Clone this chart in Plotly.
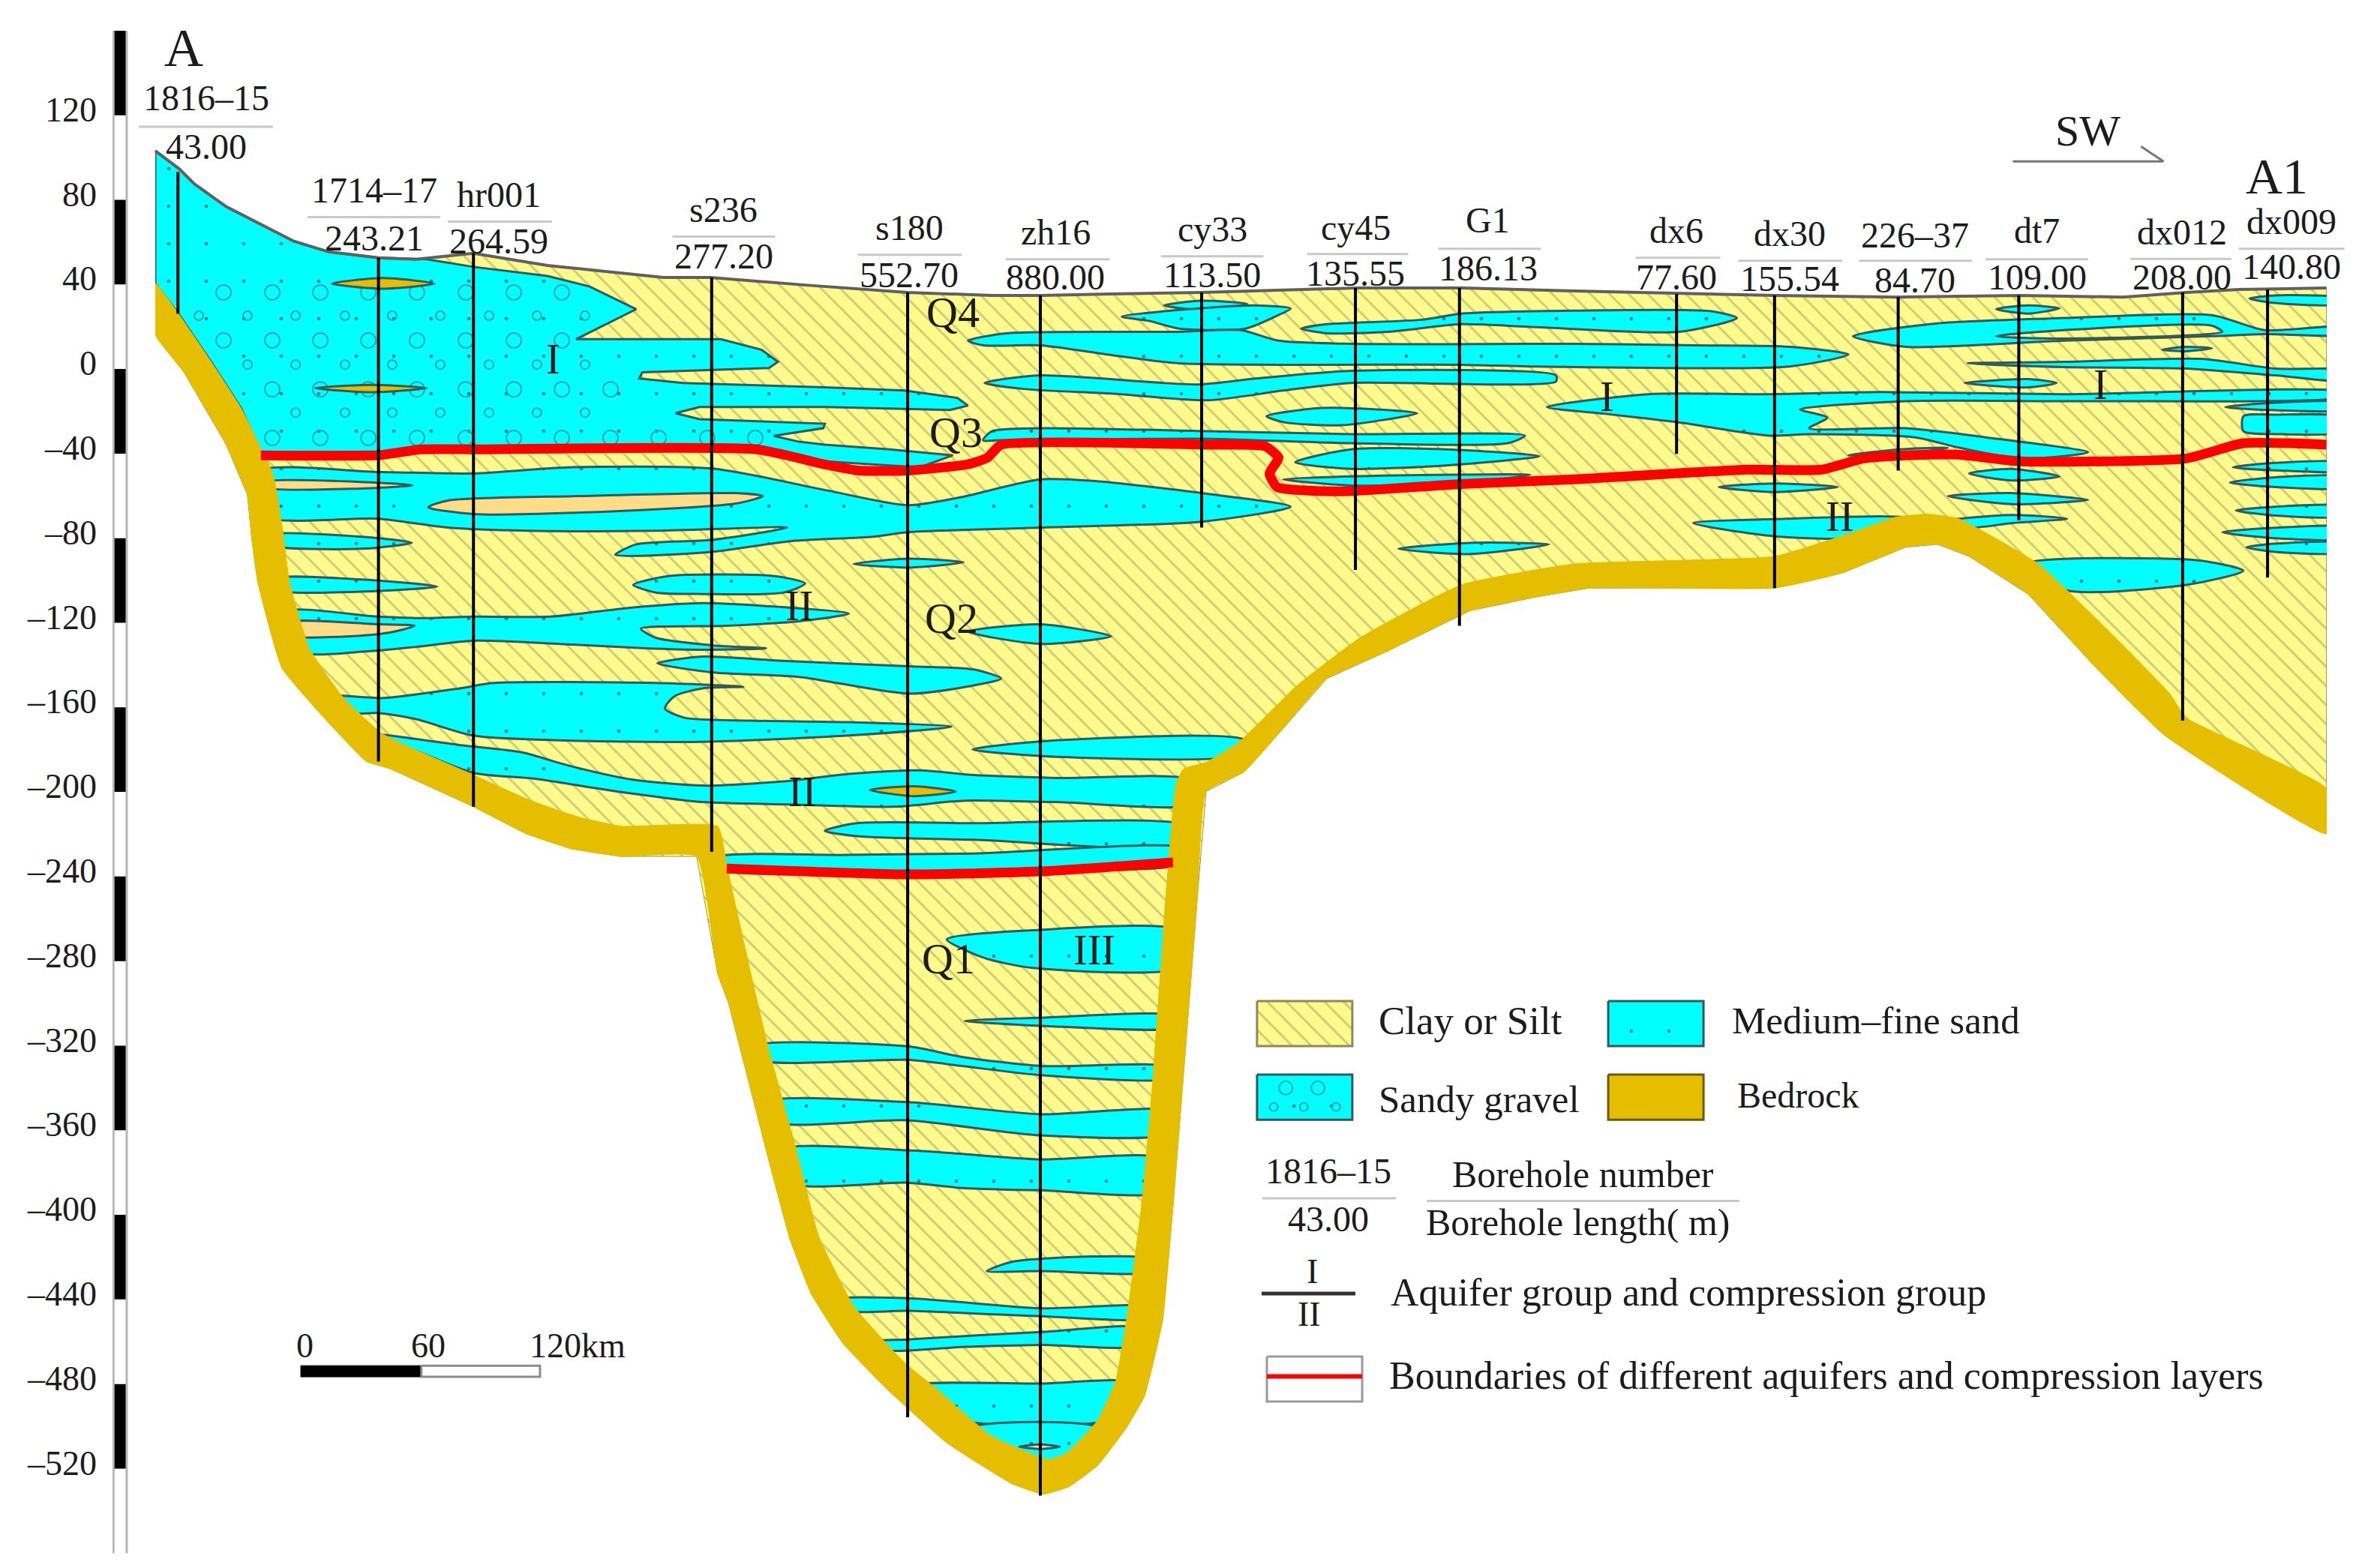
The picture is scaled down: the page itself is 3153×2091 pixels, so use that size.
import plotly.graph_objects as go

# section: distance along profile in km, elevation in m
tick_vals = [120, 80, 40, 0, -40, -80, -120, -160, -200, -240, -280, -320, -360, -400, -440, -480, -520]
tick_text = ["120", "80", "40", "0", "–40", "–80", "–120", "–160", "–200", "–240", "–280", "–320", "–360", "–400", "–440", "–480", "–520"]
scale_base = [120, 40, -40, -120, -200, -280, -360, -440, -520]

surface_x = [-72.4, -60.4, -52.9, -37.1, -3.4, 13.9, 38.7, 57.4, 85.9, 122.7, 180.4, 203.7, 250.9, 301.9, 343.9, 367.9, 403.2, 448.2, 524.7, 577.2, 633.4, 684.4, 733.2, 794.7, 855.4, 906.4, 937.9, 964.2, 1007.7]
surface_y = [103.2, 94.6, 87.5, 76.8, 60.4, 55.4, 52.6, 51.9, 54.7, 49, 43.3, 43.3, 39.7, 36.2, 34.8, 34.8, 35.5, 36.2, 38.3, 38.3, 36.9, 35.8, 34.8, 34, 34.8, 34, 36.2, 37.6, 38.3]

bedrock_top_x = [-72.4, -60.4, -44.6, -29.6, -19.9, -13.9, -9.4, -5.6, 4.2, 20.7, 40.9, 85.9, 114.4, 138.4, 159.4, 207.4, 211.9, 223.9, 232.2, 246.4, 257.7, 274.9, 300.4, 316.2, 343.2, 371.7, 380.7, 396.4, 405.4, 410.7, 418.2, 423.4, 430.2, 435.4, 439.2, 450.4, 466.9, 495.4, 526.9, 577.2, 633.4, 733.2, 770, 793.2, 809, 824.7, 864.4, 898.2, 929.7, 937.9, 1007.7]
bedrock_top_y = [40.5, 25.5, 3.4, -18.7, -37.3, -49.4, -73.6, -100.7, -132.1, -154.9, -172.7, -192, -204.1, -211.9, -216.2, -216.2, -234.8, -286.1, -319.6, -368.8, -410.2, -442.9, -470, -482.2, -504.3, -515.7, -512.8, -497.2, -478.6, -450.1, -395.9, -341.7, -251.2, -196.3, -189.1, -186, -176.3, -149.9, -127.1, -102.1, -92.2, -88.6, -77.9, -70.1, -68.6, -70.8, -92.2, -122.8, -153.5, -164.9, -198.4]
bedrock_low_x = [-72.4, -58.1, -37.1, -26.6, -24.4, -21.4, -9.4, 10.2, 32.7, 44.7, 85.9, 112.2, 134.7, 159.4, 196.9, 207.4, 212.7, 233.7, 243.4, 253.9, 269.7, 291.4, 321.4, 353.7, 369.4, 382.2, 396.4, 410.7, 419.7, 428.7, 433.9, 439.2, 445.9, 450.4, 469.2, 484.2, 510.4, 540.4, 581.7, 614.7, 640.9, 733.2, 767, 798.4, 814.2, 829.9, 859.2, 893.2, 927.4, 1007.7]
bedrock_low_y = [16.2, -1.6, -35.8, -59.4, -80, -100.7, -141.4, -163.5, -185.6, -189.1, -207, -219.8, -226.9, -230.5, -230.5, -286.1, -299.6, -377.4, -411.6, -437.3, -460.8, -482.2, -507.8, -527.1, -532.1, -528.5, -518.5, -500.7, -485.7, -450.1, -395.9, -332.4, -251.2, -199.8, -190.6, -174.9, -146.4, -133.5, -114.3, -107.8, -103.6, -103.6, -96.4, -84.3, -82.9, -88.6, -106.4, -141.4, -173.4, -219.8]

gravel_x = [-72.4, -60.4, -52.9, -37.1, -3.4, 13.9, 38.7, 62.7, 85.9, 122.7, 143.7, 166.9, 136.9, 208.9, 229.2, 237.4, 232.9, 169.9, 168.4, 190.2, 260.7, 300.4, 326.7, 331.9, 322.9, 260.7, 198.4, 186.4, 198.4, 260.7, 259.9, 235.2, 247.9, 260.7, 292.9, 324.4, 307.9, 260.7, 232.9, -19.9, -29.6, -44.6, -60.4, -72.4]
gravel_y = [103.2, 94.6, 87.5, 76.8, 60.4, 55.4, 52.6, 51.9, 48.3, 44, 39, 28.3, 14.1, 14.1, 9.1, 3.4, 0.5, -1.6, -4.5, -6.6, -8.7, -10.2, -13.7, -17.3, -19.4, -18, -18, -20.9, -23.7, -25.9, -28, -31.6, -34.4, -35.8, -38, -40.8, -46.5, -43.7, -38, -39.4, -18.7, 3.4, 25.5, 40.5]

# gravel circles by row: elevation, distances
gravel_big_y = [36.2, 13.5, -9.6, -32.6]
gravel_big_x = [
    [-38.4, -14.2, 9.7, 33.6, 57.8, 82.1, 106, 129.9],
    [-38.4, -14.2, 9.7, 33.6, 57.8, 82.1, 106, 129.9],
    [-14.2, 9.7, 33.6, 57.8, 82.1, 106, 129.9, 154.1],
    [-14.2, 9.7, 33.6, 57.8, 82.1, 106, 129.9, 154.1, 178, 202.2, 226.1],
]
gravel_small_y = [25.2, 2.1, -20.6]
gravel_small_x = [
    [-50.7, -26.5, -2.6, 22, 45.5, 69.4, 93.7, 117.5, 141.4],
    [-26.5, -2.6, 22, 45.5, 69.4, 93.7, 117.5, 141.4],
    [-2.6, 22, 45.5, 69.4, 93.7, 117.5, 141.4],
]

sand_x = [
    [-22, 38.7, 85.9, 133.2, 206.1, 260.7, 301.9, 327.4, 367.9, 394.2, 448.2, 492.4, 448.2, 367.9, 301.9, 284.7, 242.7, 204.4, 156.4, 166.9, 204.4, 241.9, 177.4, 112.2, 73.2, 38.7, -20],
    [-18, 30.4, 55.2, 30.4, -18],
    [-14, 37.9, 67.9, 37.9, -14],
    [-10, 38.65, 59.65, 85.9, 124.15, 164.65, 199.9, 231.4, 272.65, 247.9, 211.9, 169.15, 176.65, 205.15, 231.4, 199.9, 171.4, 128.65, 85.9, 57.4, 33.4, -3],
    [182.65, 235.9, 250.9, 240.4, 199.9, 176.65, 165.4],
    [274.9, 302.65, 329.65, 302.65],
    [177.4, 199.9, 235.9, 302.65, 334.9, 348.4, 334.9, 302.65, 247.9, 205.15],
    [12, 40.9, 79.15, 95.65, 176.65, 220.15, 199.9, 185.65, 181.15, 190.9, 223.9, 271.15, 323.65, 271.15, 199.9, 128.65, 85.9, 57.4, 38.65, 20],
    [35, 81.4, 109.9, 133.9, 164.65, 199.9, 242.65, 271.15, 307.15, 334.9, 375.4, 445, 445, 375.4, 330.4, 295.15, 242.65, 199.9, 152.65, 116.65, 85.9, 57.4],
    [260.65, 276.4, 334.9, 442, 442, 334.9, 276.4],
    [205, 271.15, 334.9, 442, 442, 334.9, 205],
    [334.15, 375.4, 470, 470, 375.4],
    [331.9, 367.9, 403.15, 367.9],
    [429.4, 448.15, 470.9, 448.15],
    [408.4, 427.15, 474.4, 492.4, 486.4, 469.9, 436.9, 422.65],
    [331.9, 351, 436.9, 467.65, 486.4, 524.65, 633.4, 693.4, 740.65, 769.9, 740.65, 614.65, 577.15, 436.9, 403.15, 367.9, 339.4],
    [497.65, 510.4, 557.65, 577.15, 633.4, 701.65, 714.4, 685.9, 614.65, 577.15, 541.15, 510.4],
    [340.15, 367.9, 445.9, 474.85, 522.4, 624.4, 624.4, 522.4, 488.65, 451.15, 403.15, 360.4],
    [480.4, 508.15, 555.4, 517.5, 488.65],
    [339.4, 343.9, 367.9, 451.15, 522.4, 609, 600.4, 522.4, 451.15, 348.4],
    [494.65, 522.4, 569.65, 616.15, 569.65, 522.4],
    [488.65, 522.4, 611.65, 569.65, 522.4],
    [546, 581.65, 620.95, 581.65],
    [619.9, 670.15, 727.9, 785.65, 877.15, 1018, 1018, 892.9, 798.4, 745.9, 759.4, 750.4, 798.4, 838.15, 889.15, 855.4, 825.4, 802.9, 750.4, 730.15, 684.4, 649.15],
    [772.15, 814.15, 877.15, 950.65, 976.9, 1018, 1018, 976.9, 950.65, 877.15, 798.4],
    [843.4, 859.15, 874.9, 859.15],
    [925.9, 937.9, 950.65, 937.9],
    [829.15, 877.15, 945.4, 982.15, 1018, 1018, 982.15, 937.9, 877.15],
    [827.65, 859.15, 873.4, 859.15],
    [969.4, 982.15, 1018, 1018, 982.15],
    [957.4, 982.15, 1018, 1018, 982.15],
    [966.4, 982.15, 1018, 1018, 982.9, 966.4],
    [961.15, 982.15, 1018, 1018, 982.15],
    [959.65, 982.15, 1018, 1018, 982.15],
    [962.65, 982.15, 1018, 1018, 982.15],
    [955.9, 982.15, 1018, 1018, 982.15],
    [967.9, 982.15, 1018, 1018, 982.15],
    [829.9, 850.9, 874.9, 850.9],
    [819.4, 850.9, 889.15, 850.9],
    [816, 850.9, 878.65, 850.9, 830],
    [858, 943.15, 966.4, 937.9, 878],
    [705.4, 733.15, 764.65, 733.15],
    [692.65, 733.15, 802, 790, 733.15],
    [769.9, 795.4, 819.4, 798.4],
    [321.4, 364.15, 440, 440, 364.15, 339.4],
    [330.4, 367.9, 438, 438, 367.9],
    [225, 301.9, 328.9, 367.9, 436, 436, 367.9, 328.9, 301.9, 228],
    [232, 301.9, 367.9, 433, 433, 367.9, 301.9, 236],
    [238, 301.9, 325.15, 367.9, 431, 430, 367.9, 328.9, 301.9, 243],
    [341.3, 355.5, 426, 426, 367.9],
    [266, 301.9, 367.9, 425, 424, 367.9, 301.9, 272],
    [282, 301.9, 367.9, 422, 420, 367.9, 328.9, 290],
    [300, 367.9, 416, 406, 320],
    [330, 400, 385, 352],
]
sand_y = [
    [-48.7, -48.7, -49.4, -46.5, -47.2, -57.2, -64.4, -60.8, -52.2, -52.9, -58.7, -65.1, -72.2, -75, -77.2, -79.3, -81.5, -86.5, -87.9, -82.9, -80.8, -75, -76.5, -76.5, -75, -70.8, -69.3],
    [-78.6, -79.3, -82.2, -85, -82.9],
    [-99.3, -100, -102.9, -105, -104.3],
    [-115, -117.1, -117.8, -117.1, -117.1, -112.8, -110.7, -112.1, -115.7, -119.3, -121.4, -122.8, -127.1, -130.7, -132.1, -132.8, -132.1, -130, -128.5, -131.4, -133.5, -133.5],
    [-97.9, -97.9, -101.4, -105.7, -106.4, -105.7, -102.1],
    [-92.2, -89.7, -91.4, -93.9],
    [-139.2, -136, -137.8, -140.6, -142.1, -146.4, -149.6, -153.5, -145.6, -143.5],
    [-154.9, -155.6, -151, -148.5, -148.5, -150.3, -151, -154.9, -160.6, -164.9, -166.3, -167, -169.2, -173.4, -176.3, -175.6, -173.4, -165.6, -162.7, -162.7],
    [-172.7, -178.1, -181.3, -187.7, -194.1, -197, -194.8, -191.6, -189.8, -192, -193.4, -194.8, -205.5, -204.8, -204.1, -207, -205.9, -204.8, -199.1, -193.8, -191, -180.6],
    [-218.4, -214.8, -214.8, -216.2, -224.8, -222.6, -220.9],
    [-231.2, -229.8, -229.1, -226.9, -233.3, -237.6, -236.2],
    [-179.9, -175.6, -175.6, -182, -183.4],
    [-124.2, -120.7, -126.4, -130],
    [30.1, 32.3, 30.8, 27.9],
    [24.8, 27.1, 30.1, 28.6, 25.5, 19.1, 19.1, 22.6],
    [13.4, 16.9, 17.6, 18.4, 13.4, 11.9, 11.9, 11.2, 10.5, 6.9, 1.2, 1.2, 2, 2.7, 6.6, 11.2, 11.2],
    [19.1, 21.2, 23.3, 26.2, 27.6, 27.3, 24.1, 17.6, 19.8, 21.2, 17.6, 16.9],
    [-6.6, -3, -7.3, -4.5, -0.9, -3, -5.9, -6.6, -10.2, -14.8, -11.6, -9.5],
    [-22.3, -18.4, -20.9, -26.6, -25.1],
    [-33.7, -29.4, -28, -29.4, -30.8, -31.5, -35.1, -35.1, -33, -33.7],
    [-44.1, -38, -38, -41.2, -45.6, -47.2],
    [-52.2, -50.8, -50.1, -54.4, -55.1],
    [-85, -82.2, -82.9, -87.5],
    [-18, -11.9, -11.9, -10.9, -11.9, -10.9, -13, -15.2, -15.2, -19.1, -23, -28, -28, -32.3, -39.4, -42.3, -37.3, -32.3, -30.8, -31.5, -25.1, -21.2],
    [15.5, 21.6, 24.1, 25.5, 18.4, 19.8, 16.5, 16.5, 15.5, 13.4, 10.5],
    [28.3, 30.1, 28.7, 26.2],
    [9.1, 10.5, 9.8, 8.4],
    [2.7, 3.4, 4.8, 0.2, -0.9, -5.2, -3, 0.2, 0.9],
    [-6.6, -4.8, -6.6, -8.7],
    [33.3, 34.8, 33.3, 30.8, 31.2],
    [-18, -15.9, -15.9, -19.1, -19.5],
    [-22.3, -21.6, -23, -29.4, -30.8, -29.4],
    [-46.5, -44.4, -44.4, -47.9, -47.9],
    [-53.7, -51.2, -51.2, -55.8, -55.8],
    [-66.9, -65.1, -65.1, -69.3, -69.3],
    [-77.2, -75.1, -75.1, -80, -80],
    [-84.3, -82.6, -82.6, -86.5, -86.5],
    [-49.4, -47.2, -50.8, -52.7],
    [-60.1, -58.7, -61.9, -63.9],
    [-72.2, -69, -70.8, -72.9, -75.1],
    [-92.2, -90.4, -95.4, -102.1, -104.6],
    [-55.8, -54.1, -55.8, -58.2],
    [-72.9, -71, -71, -79.1, -79.1],
    [-40.8, -38, -37.3, -40.1],
    [-269.7, -265.4, -266.1, -282.5, -283.2, -278.3],
    [-308.2, -306.8, -306.1, -311.1, -310.6],
    [-320.3, -320.3, -325.3, -329.6, -330.3, -335.3, -333.9, -329.6, -326.7, -326.7],
    [-346.7, -346.7, -352.4, -351.3, -361.3, -362.4, -355.3, -356],
    [-369.5, -369.5, -370.9, -373.8, -373.8, -388.8, -388.4, -387.3, -384.8, -384.8],
    [-426.6, -421.9, -421.3, -426.6, -426.6],
    [-440.1, -439.4, -444.2, -443.7, -448.7, -447.9, -445.4, -445.4],
    [-460.1, -458.9, -455.4, -453.7, -461.5, -461.5, -462.5, -464.1],
    [-481.5, -479.8, -479.8, -496.1, -496.1],
    [-501.4, -501.4, -522, -522],
]

# clay tongue inside the sand near dx012
tongue_x = [843.4, 877.15, 950.65, 955.9, 877.15]
tongue_y = [15.5, 18.4, 20.5, 17.6, 14.4]

tan_x = [[63.4, 73.2, 138.4, 216.4, 229.9, 216.4, 138.4, 85.9], [-18, 30, 55.5, 30, -18], [-8, 37.9, 56.65, 41.65, -8], [357.4, 367.9, 377.65, 367.9]]
tan_y = [[-65.4, -62.2, -60.1, -58.7, -60.1, -63.6, -67.9, -68.6], [-53.4, -53.4, -55, -56.5, -56], [-120, -120.7, -121.4, -125, -125.7], [-509.6, -508.6, -509.6, -510.7]]
gold_x = [[15.4, 41, 66.4, 41], [7.2, 35, 62.6, 35], [283.15, 304.9, 325.9, 304.9]]
gold_y = [[40.4, 43, 40.4, 38], [-9, -7.5, -9, -11], [-199.1, -197.3, -199.8, -202]]

red_x = [-19.85, 38.65, 59.65, 85.9, 226.9, 260.65, 277.15, 301.9, 331.9, 341.65, 348.4, 451.15, 479.65, 486.4, 481.9, 485.65, 516.35, 577.15, 633.4, 719.65, 756.4, 777.4, 798.4, 824.65, 855.4, 937.9, 966.4, 1007.65]
red_y = [-40.8, -40.8, -38, -38, -38, -45.1, -48, -48, -45.1, -41.9, -35.8, -35.8, -36.5, -41.9, -49.4, -55.8, -57.9, -54.4, -52.2, -47.6, -47.6, -42.3, -40.8, -40.5, -43.7, -42.3, -35.1, -35.8]
red_low_x = [211.9, 302.65, 367.9, 433.9]
red_low_y = [-236.2, -239, -237.6, -233.3]

hole_names = ["1816–15", "1714–17", "hr001", "s236", "s180", "zh16", "cy33", "cy45", "G1", "dx6", "dx30", "226–37", "dt7", "dx012", "dx009"]
hole_lengths = ["43.00", "243.21", "264.59", "277.20", "552.70", "880.00", "113.50", "135.55", "186.13", "77.60", "155.54", "84.70", "109.00", "208.00", "140.80"]
hole_x = [-61.1, 38.65, 85.9, 204.4, 301.9, 367.9, 448.15, 524.65, 576.4, 684.4, 733.15, 794.65, 854.65, 936.15, 978.4]
hole_top = [93.2, 52.6, 54.7, 43.3, 36.2, 34.8, 36.2, 38.3, 38.3, 35.5, 34.8, 34, 34.8, 36.2, 37.6]
hole_bottom = [26.2, -185.6, -207, -228.3, -495.7, -532.8, -75, -95, -121.4, -40.1, -103.6, -48, -71.5, -166.3, -98.6]

# where the borehole captions sit
cap_x = [-46.85, 36.4, 98.65, 210.4, 302.65, 375.4, 453.4, 524.65, 590.65, 684.4, 740.65, 802.9, 863.65, 935.65, 990.4]
cap_name_y = [128.2, 84.7, 82.5, 75.4, 66.8, 64.7, 66.1, 66.8, 70.4, 65.4, 64, 63.3, 65.4, 64.7, 69.7]
cap_len_y = [105.3, 61.8, 60.4, 53.3, 44.7, 43.3, 44.7, 45.4, 47.6, 43.3, 42.6, 41.9, 43.3, 43.3, 48.3]
cap_rule_y = [114.6, 71.8, 69.7, 62.6, 54, 51.9, 53.3, 54.4, 56.9, 52.6, 51.2, 51.2, 51.9, 52.1, 56.9]
cap_rule_x0 = [-80.6, 3.4, 73.15, 184.9, 277.15, 350.65, 427.9, 500.65, 565.9, 664.15, 715.15, 775.15, 838.15, 910.15, 964.15]
cap_rule_x1 = [-13.85, 69.4, 124.9, 235.9, 328.9, 402.4, 478.9, 550.9, 616.9, 706.15, 766.9, 831.4, 889.15, 960.4, 1016.65]

SERIF = "Liberation Serif"
INK = "#1c1c1c"
CLAY = dict(shape="\\", bgcolor="#FEFB8C", fgcolor="#9E9C5E", size=18, solidity=0.16)
SAND = dict(shape=".", bgcolor="#00FFFF", fgcolor="#000000", size=50, solidity=0.007)
EDGE = "#35585A"
GOLD = "#E6BE00"

fig = go.Figure()


def blob(xs, ys, color=None, pattern=None, edge=EDGE, width=3, smooth=0.7):
    fig.add_trace(go.Scatter(
        x=list(xs) + [xs[0]], y=list(ys) + [ys[0]], mode="lines", fill="toself",
        fillcolor=color, fillpattern=pattern,
        line=dict(color=edge, width=width, shape="spline" if smooth else "linear", smoothing=smooth),
        showlegend=False, hoverinfo="skip"))


def line(xs, ys, color=INK, width=3, shape="linear"):
    fig.add_trace(go.Scatter(
        x=xs, y=ys, mode="lines", line=dict(color=color, width=width, shape=shape, smoothing=0.5),
        showlegend=False, hoverinfo="skip"))


def rect(x0, y0, x1, y1, color=None, pattern=None, edge="#8a8a5a", width=3):
    blob([x0, x1, x1, x0], [y0, y0, y1, y1], color, pattern, edge, width, 0)


def label(text, x, y, size=48, anchor="center"):
    fig.add_annotation(x=x, y=y, text=text, showarrow=False, xanchor=anchor, yanchor="middle",
                       font=dict(family=SERIF, size=size, color=INK))


def circles(xs, y, size, color="#2AA7A7"):
    fig.add_trace(go.Scatter(
        x=xs, y=[y] * len(xs), mode="markers", showlegend=False, hoverinfo="skip",
        marker=dict(symbol="circle-open", size=size, color=color, line=dict(width=2, color=color))))


# vertical elevation column
line([-93.2, -93.2], [160, -560], "#b5b5b5", 3)
line([-86.6, -86.6], [160, -560], "#b5b5b5", 3)
fig.add_trace(go.Bar(x=[-89.9] * len(scale_base), y=[40] * len(scale_base), base=scale_base, width=6.7,
                     marker=dict(color="black", line=dict(width=0)), showlegend=False, hoverinfo="skip"))

# clay first, aquifers over it, bedrock band last so it trims the lens ends
blob(surface_x + bedrock_low_x[::-1], surface_y + bedrock_low_y[::-1], None, CLAY, "#8f9a55", 1, 0)

blob(gravel_x, gravel_y, None, SAND, EDGE, 3, 0)
for i, row in enumerate(gravel_big_x):
    circles(row, gravel_big_y[i], 20)
for i, row in enumerate(gravel_small_x):
    circles(row, gravel_small_y[i], 12)
for xs, ys in zip(sand_x, sand_y):
    blob(xs, ys, None, SAND)
blob(tongue_x, tongue_y, None, CLAY)
for xs, ys in zip(tan_x, tan_y):
    blob(xs, ys, "#FFDD88")
for xs, ys in zip(gold_x, gold_y):
    blob(xs, ys, GOLD)

blob(bedrock_top_x + bedrock_low_x[::-1], bedrock_top_y + bedrock_low_y[::-1], GOLD, None, GOLD, 1, 0.4)

# trim whatever ran past the ends of the section
rect(-82, 112, -72.4, 0, "white", None, "white", 0)
rect(1007.9, 45, 1026.87, -235, "white", None, "white", 0)

line(surface_x, surface_y, "#606060", 4)
line(red_x, red_y, "#FF0000", 13, "spline")
line(red_low_x, red_low_y, "#FF0000", 13, "spline")

for i in range(len(hole_names)):
    line([hole_x[i], hole_x[i]], [hole_top[i], hole_bottom[i]], "#000000", 4)
    line([cap_rule_x0[i], cap_rule_x1[i]], [cap_rule_y[i], cap_rule_y[i]], "#c8c8c8", 3)
    label(hole_names[i], cap_x[i], cap_name_y[i], 48)
    label(hole_lengths[i], cap_x[i], cap_len_y[i], 48)

# section letters and strata labels
label("A", -58.1, 151.7, 72)
label("A1", 982.9, 91.1, 68)
label("SW", 889.15, 112.5, 58)
line([851.65, 926.65], [98.2, 98.2], "#777777", 3)
line([915.4, 926.65], [105.3, 98.2], "#777777", 3)
for q, qx, qy in [("Q4", 324.4, 26.9), ("Q3", 325.9, -30.1), ("Q2", 323.65, -117.8), ("Q1", 322.15, -279)]:
    label(q, qx, qy, 58)
for r, rx, ry in [("I", 125.65, 4.8), ("I", 649.9, -13), ("I", 895.2, -7.3), ("II", 247.9, -112.1), ("II", 249.4, -199.8), ("II", 765.4, -70), ("III", 394.9, -274.7)]:
    label(r, rx, ry, 56)

# scale bar
rect(0, -471.3, 60, -476.6, "black", None, "black", 1)
rect(60, -471.3, 119, -476.6, "white", None, "#8c8c8c", 3)
label("0", 2.2, -461.7, 46)
label("60", 63.4, -461.7, 46)
label("120km", 137.7, -461.7, 46)

# key
rect(475.7, -298.9, 523.1, -320.2, None, CLAY)
rect(650.4, -298.9, 697.8, -320.2, None, SAND, EDGE)
rect(475.7, -333.7, 523.1, -355, None, SAND, EDGE)
circles([490, 506], -340, 18)
circles([484, 499, 515], -349, 11)
rect(650.4, -333.7, 697.8, -355, GOLD, None, "#6b5a10")
rect(480.6, -467, 528, -488.3, "white", None, "#9a9a9a")
line([480.6, 528], [-476.4, -476.4], "#FF0000", 6)
line([478.4, 544.8], [-392.2, -392.2], "#c8c8c8", 3)
line([560.1, 715.7], [-393.4, -393.4], "#c8c8c8", 3)
line([478, 524.6], [-437.2, -437.2], "#303030", 5)
label("Clay or Silt", 535.4, -308.2, 53, "left")
label("Medium–fine sand", 711.2, -308.2, 51, "left")
label("Sandy gravel", 535.4, -345.4, 51, "left")
label("Bedrock", 713.8, -343.3, 48, "left")
label("1816–15", 511.2, -379.3, 48)
label("43.00", 511.2, -402.1, 48)
label("Borehole number", 637.7, -380.7, 50)
label("Borehole length( m)", 635.4, -403.5, 50)
label("I", 503, -426.6, 46)
label("II", 501.5, -446.8, 46)
label("Aquifer group and compression group", 541.6, -436.5, 52, "left")
label("Boundaries of different aquifers and compression layers", 540.7, -476.2, 52, "left")

fig.update_layout(
    width=3153, height=2091, margin=dict(l=150, r=0, t=0, b=0),
    paper_bgcolor="white", plot_bgcolor="white", showlegend=False,
    xaxis=dict(range=[-93.66, 1026.87], visible=False, fixedrange=True),
    yaxis=dict(range=[-567, 174.5], tickvals=tick_vals, ticktext=tick_text, showgrid=False, zeroline=False,
               showline=False, ticks="", ticklabelstandoff=20, ticklabelshift=-8, fixedrange=True,
               tickfont=dict(family=SERIF, size=46, color=INK)),
)
fig.write_html("out.html", config=dict(displayModeBar=False),
               post_script="document.body.style.margin='0';document.body.style.overflow='hidden';")
